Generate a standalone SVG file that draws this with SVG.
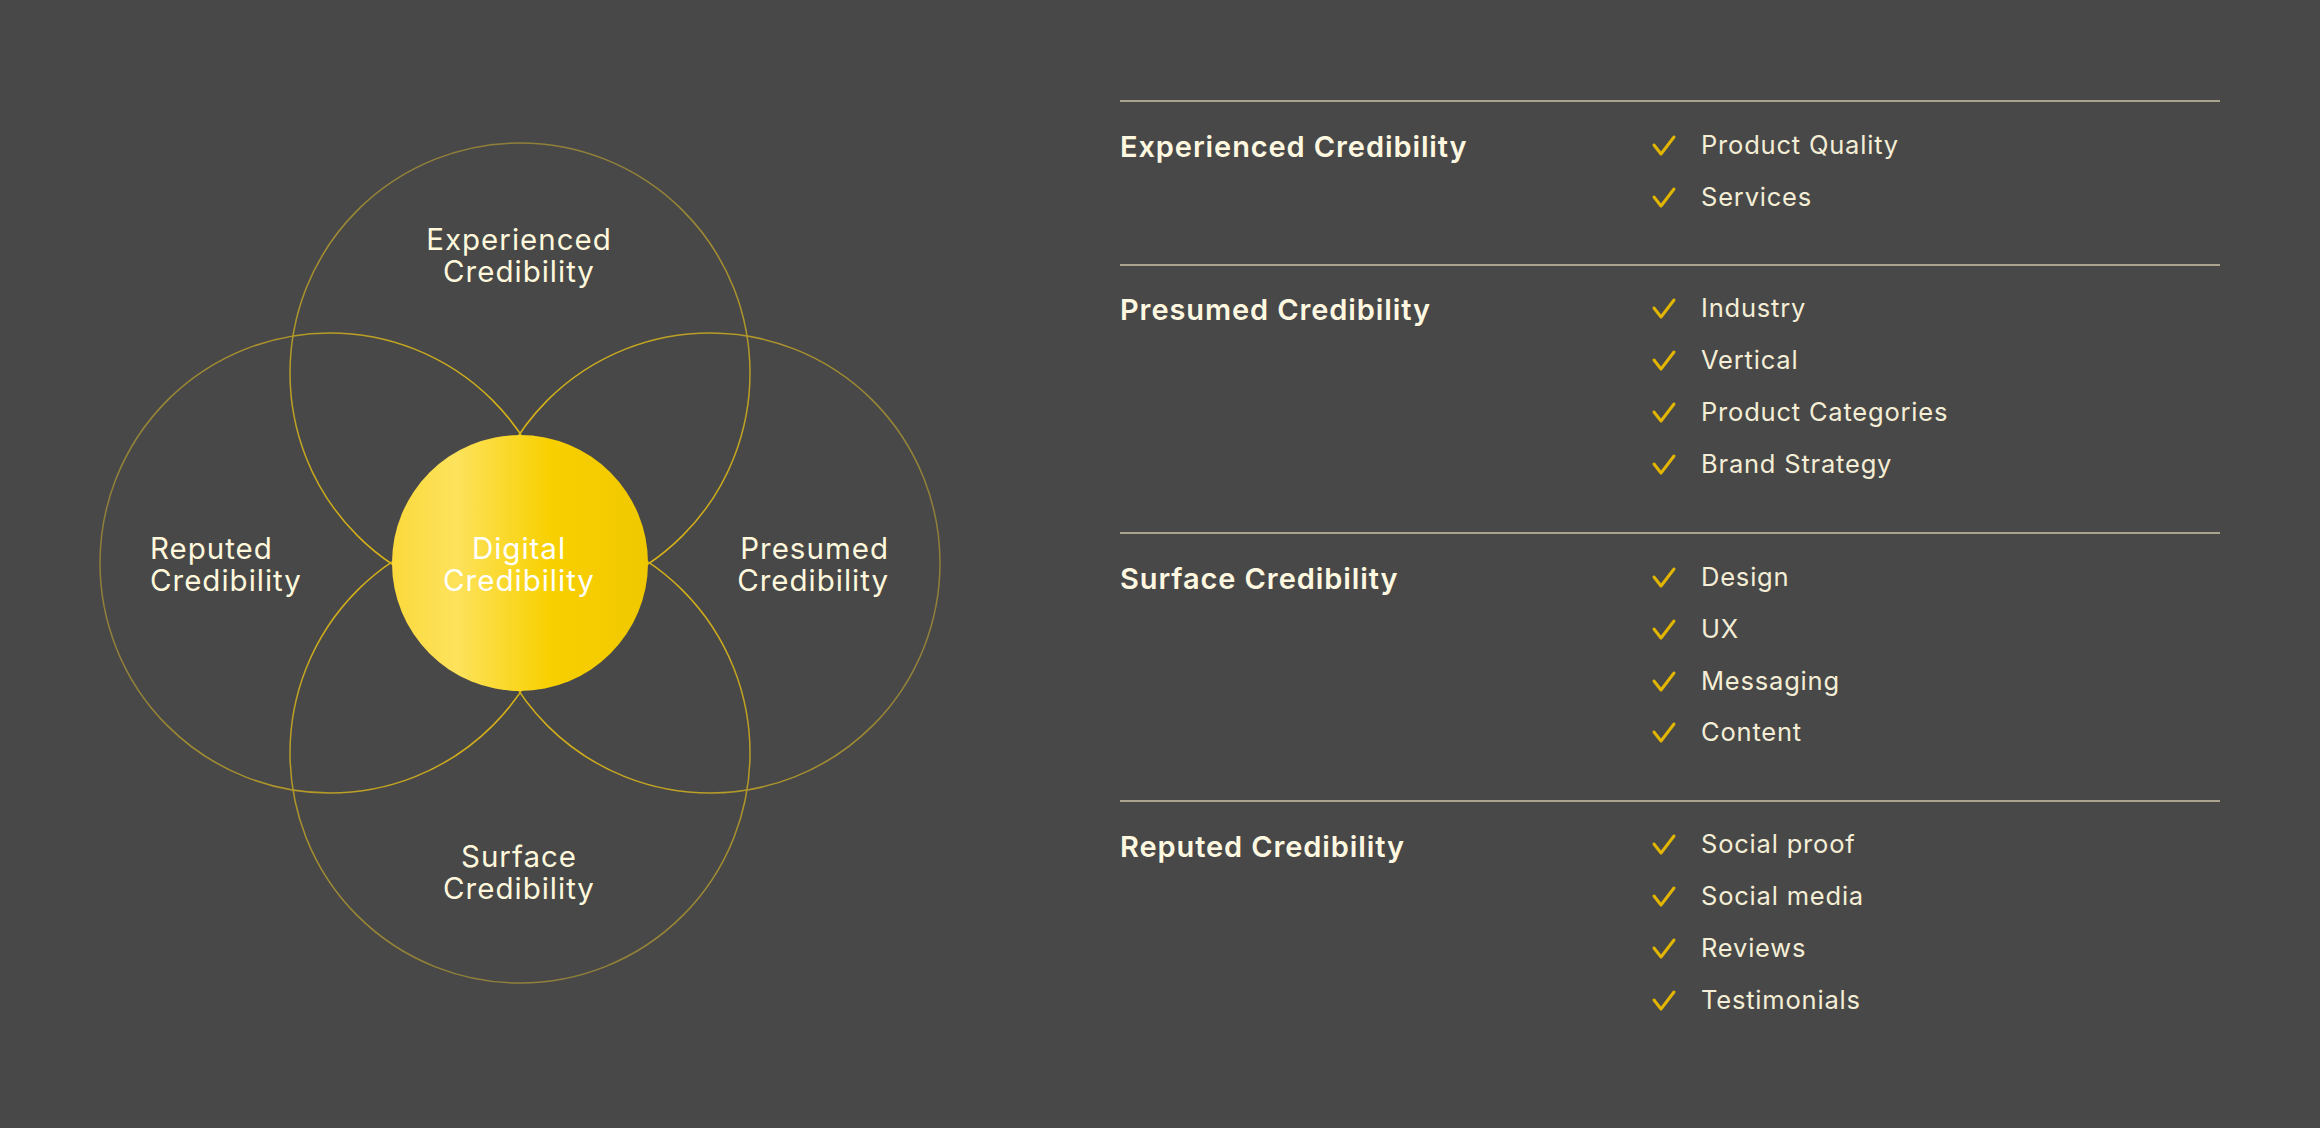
<svg xmlns="http://www.w3.org/2000/svg" width="2320" height="1128" viewBox="0 0 2320 1128">
<style>
.ring{fill:none;stroke-width:1.5}
.lbl{font-family:Inter,"Liberation Sans",sans-serif;font-size:29.5px;fill:#fff8dc;letter-spacing:1px}
.head{font-family:Inter,"Liberation Sans",sans-serif;font-size:29px;font-weight:600;fill:#fff8e0;letter-spacing:0.9px}
.item{font-family:Inter,"Liberation Sans",sans-serif;font-size:25.5px;fill:#f4eed6;letter-spacing:0.8px}
.rule{stroke:#aaa48e;stroke-width:2}
.tick{fill:none;stroke:#e2b500;stroke-width:3;stroke-linecap:round;stroke-linejoin:round}
</style>
<defs>
<linearGradient id="gc" x1="0" y1="0" x2="1" y2="0">
<stop offset="0" stop-color="#fbd93c"/>
<stop offset="0.25" stop-color="#fde25c"/>
<stop offset="0.62" stop-color="#f8d000"/>
<stop offset="1" stop-color="#f0c800"/>
</linearGradient>
<linearGradient id="gt" gradientUnits="userSpaceOnUse" x1="520" y1="143" x2="520" y2="603">
<stop offset="0" stop-color="#8f7f3a"/><stop offset="1" stop-color="#e0b912"/>
</linearGradient>
<linearGradient id="gb" gradientUnits="userSpaceOnUse" x1="520" y1="983" x2="520" y2="523">
<stop offset="0" stop-color="#8f7f3a"/><stop offset="1" stop-color="#e0b912"/>
</linearGradient>
<linearGradient id="gl" gradientUnits="userSpaceOnUse" x1="100" y1="563" x2="560" y2="563">
<stop offset="0" stop-color="#8f7f3a"/><stop offset="1" stop-color="#e0b912"/>
</linearGradient>
<linearGradient id="gr" gradientUnits="userSpaceOnUse" x1="940" y1="563" x2="480" y2="563">
<stop offset="0" stop-color="#8f7f3a"/><stop offset="1" stop-color="#e0b912"/>
</linearGradient>
<path id="tk" d="M0,-9 L7,0 L20,-17"/>
</defs>
<rect width="2320" height="1128" fill="#484848"/>

<g id="experienced">
<circle class="ring" cx="520" cy="373" r="230" stroke="url(#gt)"/>
<text class="lbl" x="519" y="250" text-anchor="middle">Experienced</text>
<text class="lbl" x="519" y="282" text-anchor="middle">Credibility</text>
</g>
<g id="reputed">
<circle class="ring" cx="330" cy="563" r="230" stroke="url(#gl)"/>
<text class="lbl" x="150" y="559">Reputed</text>
<text class="lbl" x="150" y="591">Credibility</text>
</g>
<g id="presumed">
<circle class="ring" cx="710" cy="563" r="230" stroke="url(#gr)"/>
<text class="lbl" x="889" y="559" text-anchor="end">Presumed</text>
<text class="lbl" x="889" y="591" text-anchor="end">Credibility</text>
</g>
<g id="surface">
<circle class="ring" cx="520" cy="753" r="230" stroke="url(#gb)"/>
<text class="lbl" x="519" y="867" text-anchor="middle">Surface</text>
<text class="lbl" x="519" y="899" text-anchor="middle">Credibility</text>
</g>
<g id="digital">
<circle cx="520" cy="563" r="128" fill="url(#gc)"/>
<text class="lbl" x="519" y="559" text-anchor="middle" style="fill:#ffffff">Digital</text>
<text class="lbl" x="519" y="591" text-anchor="middle" style="fill:#ffffff">Credibility</text>
</g>

<g id="table">
<line class="rule" x1="1120" y1="101" x2="2220" y2="101"/>
<line class="rule" x1="1120" y1="265" x2="2220" y2="265"/>
<line class="rule" x1="1120" y1="533" x2="2220" y2="533"/>
<line class="rule" x1="1120" y1="801" x2="2220" y2="801"/>
</g>

<g id="row-experienced">
<text class="head" x="1120" y="157">Experienced Credibility</text>
<use href="#tk" class="tick" x="1654" y="154"/><text class="item" x="1701" y="154">Product Quality</text>
<use href="#tk" class="tick" x="1654" y="206"/><text class="item" x="1701" y="206">Services</text>
</g>
<g id="row-presumed">
<text class="head" x="1120" y="320">Presumed Credibility</text>
<use href="#tk" class="tick" x="1654" y="317"/><text class="item" x="1701" y="317">Industry</text>
<use href="#tk" class="tick" x="1654" y="369"/><text class="item" x="1701" y="369">Vertical</text>
<use href="#tk" class="tick" x="1654" y="421"/><text class="item" x="1701" y="421">Product Categories</text>
<use href="#tk" class="tick" x="1654" y="473"/><text class="item" x="1701" y="473">Brand Strategy</text>
</g>
<g id="row-surface">
<text class="head" x="1120" y="589">Surface Credibility</text>
<use href="#tk" class="tick" x="1654" y="586"/><text class="item" x="1701" y="586">Design</text>
<use href="#tk" class="tick" x="1654" y="638"/><text class="item" x="1701" y="638">UX</text>
<use href="#tk" class="tick" x="1654" y="690"/><text class="item" x="1701" y="690">Messaging</text>
<use href="#tk" class="tick" x="1654" y="741"/><text class="item" x="1701" y="741">Content</text>
</g>
<g id="row-reputed">
<text class="head" x="1120" y="857">Reputed Credibility</text>
<use href="#tk" class="tick" x="1654" y="853"/><text class="item" x="1701" y="853">Social proof</text>
<use href="#tk" class="tick" x="1654" y="905"/><text class="item" x="1701" y="905">Social media</text>
<use href="#tk" class="tick" x="1654" y="957"/><text class="item" x="1701" y="957">Reviews</text>
<use href="#tk" class="tick" x="1654" y="1009"/><text class="item" x="1701" y="1009">Testimonials</text>
</g>
</svg>
